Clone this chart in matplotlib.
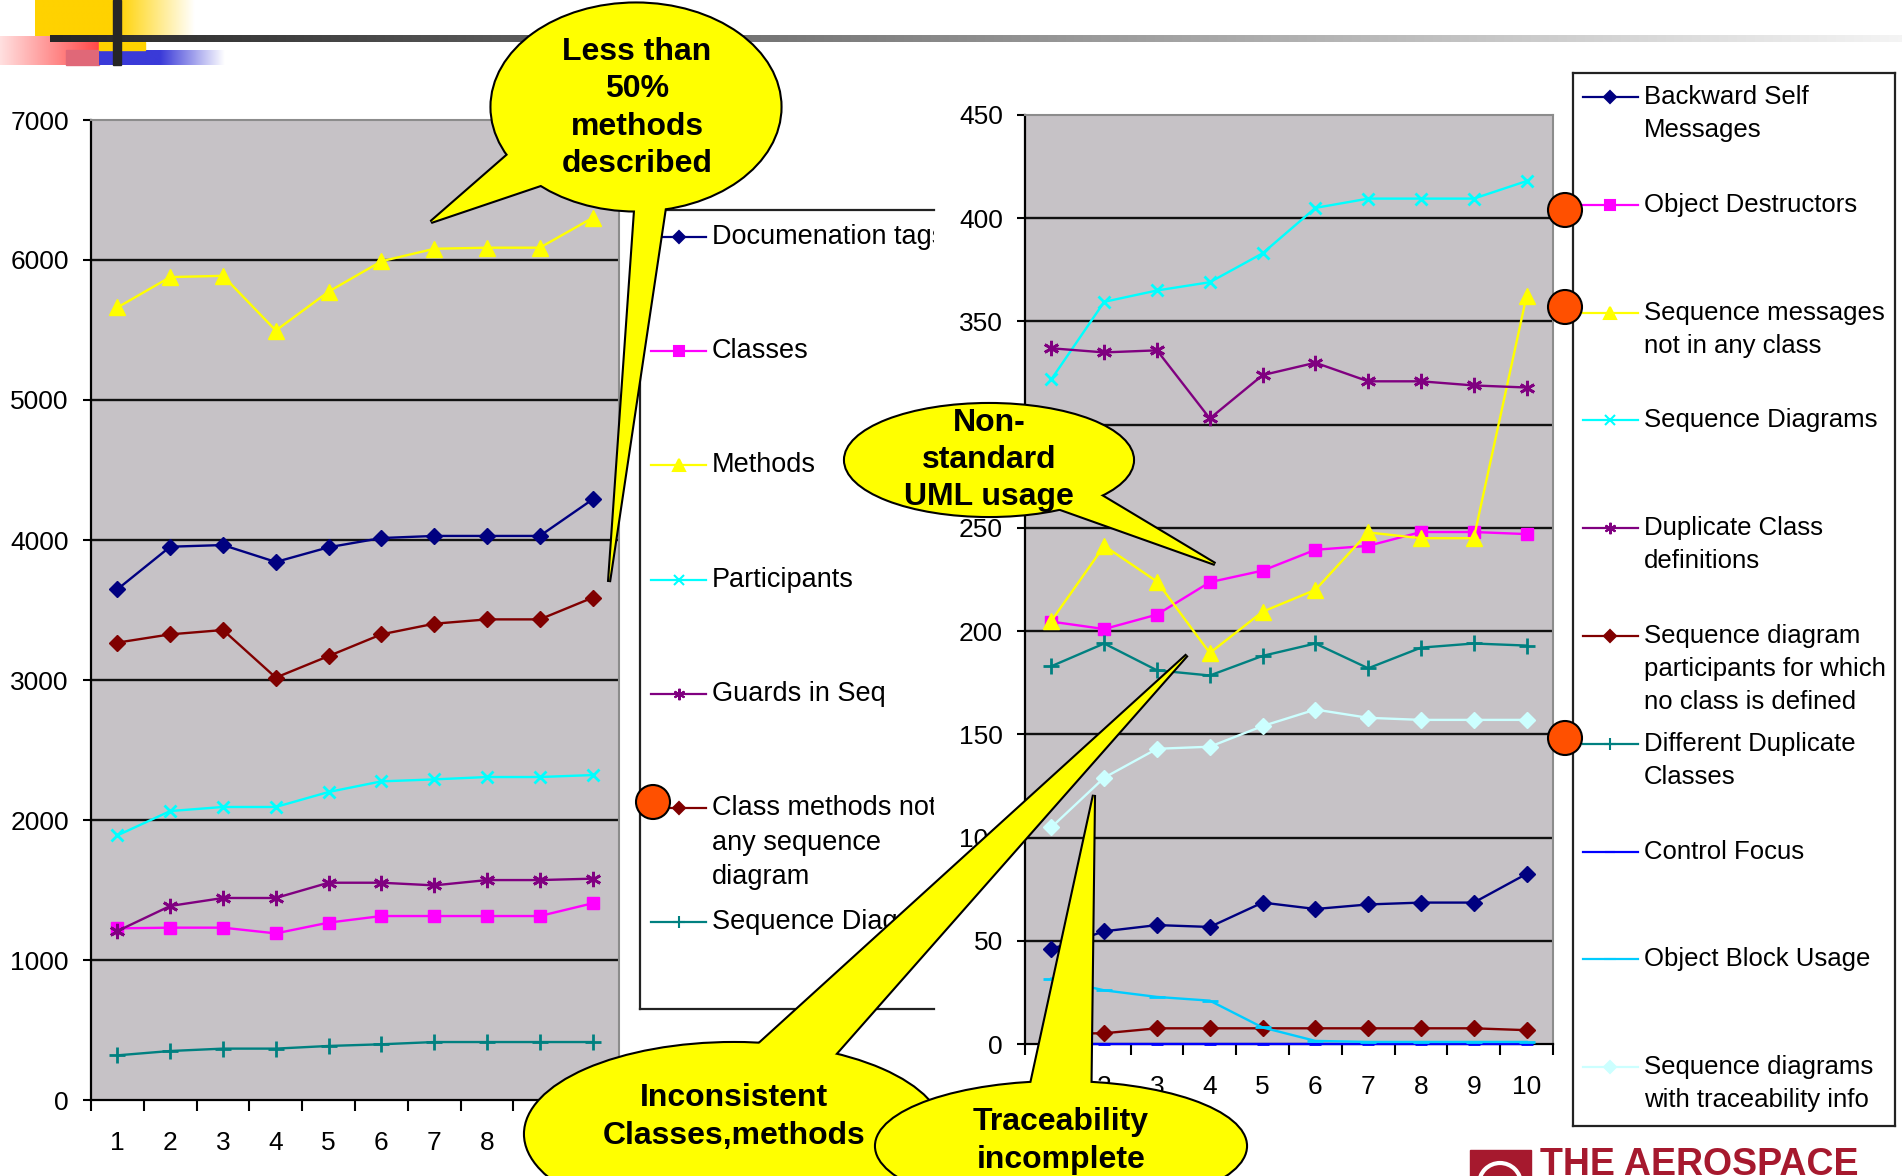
import matplotlib.pyplot as plt
import numpy as np
from matplotlib.colors import to_rgb
from matplotlib.patches import Circle, Ellipse, Polygon, Rectangle

plt.switch_backend("agg")
plt.rcParams["font.family"] = ["Liberation Sans", "DejaVu Sans"]

W, H = 1902, 1176

# --- data -------------------------------------------------------------
runs = [1, 2, 3, 4, 5, 6, 7, 8, 9, 10]

left_yticks = [0, 1000, 2000, 3000, 4000, 5000, 6000, 7000]
right_yticks = [0, 50, 100, 150, 200, 250, 300, 350, 400, 450]

# left chart
doc_tags = [3648, 3952, 3964, 3843, 3948, 4014, 4029, 4029, 4029, 4290]
classes = [1226, 1231, 1231, 1190, 1267, 1314, 1314, 1314, 1314, 1405]
methods = [5661, 5878, 5887, 5496, 5774, 5991, 6080, 6088, 6088, 6301]
participants = [1890, 2064, 2093, 2093, 2200, 2276, 2290, 2307, 2307, 2321]
guards_in_seq = [1207, 1386, 1443, 1443, 1552, 1552, 1533, 1571, 1571, 1581]
methods_not_in_seq = [3267, 3326, 3357, 3017, 3171, 3326, 3402, 3433, 3433, 3588]
seq_diagrams_left = [319, 350, 367, 367, 386, 398, 414, 414, 414, 414]

left_labels = [
    "Documenation tags", "Classes", "Methods", "Participants",
    "Guards in Seq", "Class methods not in\nany sequence\ndiagram",
    "Sequence Diagrams",
]
left_series = [doc_tags, classes, methods, participants, guards_in_seq,
               methods_not_in_seq, seq_diagrams_left]

# right chart
backward_self = [46, 54.6, 57.6, 56.7, 68.5, 65.4, 67.6, 68.5, 68.5, 82.4]
obj_destructors = [204.6, 201, 208, 223.7, 229.3, 239.4, 241.3, 248, 248, 247]
seq_msgs_no_class = [205, 241.3, 224, 189.4, 209.4, 220, 247.8, 245, 245, 362.4]
seq_diagrams = [322, 359.5, 365, 369, 383, 405, 409.5, 409.5, 409.5, 418]
dup_class_defs = [337, 335, 336, 303, 324, 330, 321, 321, 319, 318]
participants_no_class = [5, 5.2, 7.6, 7.6, 7.6, 7.6, 7.6, 7.6, 7.6, 6.7]
diff_dup_classes = [183, 194, 181, 178.5, 188, 194, 182, 192, 194, 193]
control_focus = [0, 0, 0, 0, 0, 0, 0, 0, 0, 0]
obj_block_usage = [31.7, 26, 22.8, 21, 8, 1.5, 1, 1, 1, 1]
seq_traceability = [105, 129, 143, 144, 154, 162, 158, 157, 157, 157]

right_labels = [
    "Backward Self\nMessages", "Object Destructors",
    "Sequence messages\nnot in any class", "Sequence Diagrams",
    "Duplicate Class\ndefinitions",
    "Sequence diagram\nparticipants for which\nno class is defined",
    "Different Duplicate\nClasses", "Control Focus", "Object Block Usage",
    "Sequence diagrams\nwith traceability info",
]
right_series = [backward_self, obj_destructors, seq_msgs_no_class,
                seq_diagrams, dup_class_defs, participants_no_class,
                diff_dup_classes, control_focus, obj_block_usage,
                seq_traceability]

# --- styles -----------------------------------------------------------
STAR = (6, 2, 0)
left_styles = [
    ("#000080", "D", 8), ("#FF00FF", "s", 9), ("#FFFF00", "^", 11),
    ("#00FFFF", "x", 9), ("#800080", STAR, 11), ("#800000", "D", 8),
    ("#008080", "+", 12),
]
right_styles = [
    ("#000080", "D", 8), ("#FF00FF", "s", 9), ("#FFFF00", "^", 11),
    ("#00FFFF", "x", 9), ("#800080", STAR, 11), ("#800000", "D", 8),
    ("#008080", "+", 12), ("#0000FF", "_", 9), ("#00CCFF", "_", 11),
    ("#CCFFFF", "D", 8),
]

PLOT_BG = "#C6C2C6"
YELLOW = "#FFFF00"
ORANGE = "#FF5000"
CRIMSON = "#A6192E"

fig = plt.figure(figsize=(W / 100, H / 100), dpi=100, facecolor="white")


def px_axes(x0, y0, x1, y1, **kw):
    return fig.add_axes([x0 / W, 1 - y1 / H, (x1 - x0) / W, (y1 - y0) / H], **kw)


def setup_chart(ax, yticks):
    ax.set_facecolor(PLOT_BG)
    ax.set_xlim(0.5, 10.5)
    ax.set_ylim(yticks[0], yticks[-1])
    ax.set_yticks(yticks)
    ax.set_xticks(runs)
    ax.set_xticks(np.arange(0.5, 11, 1), minor=True)
    ax.tick_params(axis="x", which="major", length=0, pad=22, labelsize=19)
    ax.tick_params(axis="x", which="minor", length=8, width=1.5)
    ax.tick_params(axis="y", length=6, width=1.5, pad=10, labelsize=19)
    for v in yticks[1:-1]:
        ax.axhline(v, color="#111111", lw=1.7, zorder=0.8)
    for s in ["top", "right"]:
        ax.spines[s].set_color("#8c8c8c")
        ax.spines[s].set_linewidth(1.5)
    for s in ["left", "bottom"]:
        ax.spines[s].set_color("black")
        ax.spines[s].set_linewidth(1.6)


def draw_series(ax, series, styles):
    for vals, (c, m, ms) in zip(series, styles):
        thin = m in ("x", "+", "_", STAR)
        ax.plot(runs, vals, color=c, lw=1.7, marker=m, ms=ms,
                mew=2 if thin else 1, mec=c, mfc=c, clip_on=False, zorder=3)


# --- charts -------------------------------------------------------------
ax_l = px_axes(91, 120, 619, 1100)
setup_chart(ax_l, left_yticks)
draw_series(ax_l, left_series, left_styles)

ax_r = px_axes(1025, 115, 1553, 1044)
setup_chart(ax_r, right_yticks)
draw_series(ax_r, right_series, right_styles)


# --- legends ------------------------------------------------------------
def draw_legend(x0, y0, x1, y1, labels, styles, first_y, step, gap, fs,
                hx, tx, right_spine=True):
    lg = px_axes(x0, y0, x1, y1)
    lg.set_xlim(x0, x1)
    lg.set_ylim(y1, y0)
    lg.set_xticks([])
    lg.set_yticks([])
    lg.set_facecolor("white")
    for s in lg.spines.values():
        s.set_color("#222222")
        s.set_linewidth(1.6)
    lg.spines["right"].set_visible(right_spine)
    for i, (lab, (c, m, ms)) in enumerate(zip(labels, styles)):
        y = first_y + i * step
        lg.plot([hx[0], hx[1]], [y, y], color=c, lw=1.6)
        lg.plot([(hx[0] + hx[1]) / 2], [y], color=c, marker=m, ms=ms * 0.75,
                mew=1.5, mec=c, mfc=c)
        for j, line in enumerate(lab.split("\n")):
            lg.text(tx, y + j * gap, line, va="center", ha="left",
                    fontsize=fs, color="black", clip_on=True)
    return lg


draw_legend(640, 210, 934, 1009, left_labels, left_styles, 237, 114.2,
            34.6, 19.5, (651, 706), 712, right_spine=False)
draw_legend(1573, 73, 1895, 1126, right_labels, right_styles, 97, 107.8,
            33, 18.5, (1583, 1638), 1644)

# --- overlay: header, callouts, markers, logo --------------------------
ov = fig.add_axes([0, 0, 1, 1], zorder=10)
ov.axis("off")


def hgrad(x0, x1, y0, y1, c0, c1, solid_to=None, z=1):
    n = 256
    a = np.array(to_rgb(c0))
    b = np.array(to_rgb(c1))
    start = solid_to if solid_to else x0
    xs = np.linspace(x0, x1, n)
    t = np.clip((xs - start) / (x1 - start), 0, 1)
    img = (a[None, :] * (1 - t[:, None]) + b[None, :] * t[:, None])[None, :, :]
    ov.imshow(img, extent=(x0, x1, y1, y0), origin="upper", aspect="auto",
              interpolation="bilinear", zorder=z)


hgrad(35, 195, 0, 36, "#FFD200", "#FFFFFF", solid_to=117)
hgrad(0, 99, 36, 65, "#FFE0E0", "#FF4848")
ov.add_patch(Rectangle((66, 50), 33, 15, color="#E06878", zorder=2))
hgrad(99, 225, 50, 65, "#3A3AD8", "#FFFFFF", solid_to=160, z=2)
ov.add_patch(Rectangle((99, 42), 46, 8, color="#FFD200", zorder=2))
hgrad(50, 1902, 35, 42, "#262626", "#F4F4F4", z=3)
ov.add_patch(Rectangle((113, 0), 8, 65, color="#262626", zorder=4))

LS = 1.32


def callout(center, w, h, tails, text, tpos, z):
    for tail in tails:
        ov.add_patch(Polygon(tail, closed=True, fc=YELLOW, ec="black", lw=3, zorder=z))
    ov.add_patch(Ellipse(center, w, h, fc=YELLOW, ec="black", lw=3, zorder=z))
    for tail in tails:
        ov.add_patch(Polygon(tail, closed=True, fc=YELLOW, ec="none", zorder=z + 0.1))
    ov.add_patch(Ellipse(center, w, h, fc=YELLOW, ec="none", zorder=z + 0.1))
    ov.text(tpos[0], tpos[1], text, ha="center", va="center", fontsize=23,
            fontweight="bold", color="black", linespacing=LS, zorder=z + 0.2)


callout((636, 107), 289, 207,
        [[(525, 140), (431, 222), (585, 170)], [(639, 154), (609, 582), (673, 154)]],
        "Less than\n50%\nmethods\ndescribed", (637, 108), 20)
callout((989, 460), 288, 112, [[(1065, 474), (1215, 564), (1007, 490)]],
        "Non-\nstandard\nUML usage", (989, 460), 22)
callout((734, 1134), 418, 182, [[(726, 1074), (1187, 655), (808, 1085)]],
        "Inconsistent\nClasses,methods", (734, 1117), 24)
callout((1061, 1146), 370, 128, [[(1023, 1121), (1094, 795), (1090, 1123)]],
        "Traceability\nincomplete", (1061, 1141), 26)

for cx, cy in [(1565, 210), (1565, 307), (1565, 738), (653, 802)]:
    ov.add_patch(Circle((cx, cy), 17, fc=ORANGE, ec="black", lw=1.5, zorder=30))

# logo, cut by the bottom edge
ov.add_patch(Rectangle((1470, 1150), 61, 30, color=CRIMSON, zorder=30))
ov.add_patch(Circle((1500, 1184), 21, fc="none", ec="white", lw=3, zorder=31))
ov.text(1540, 1147, "THE AEROSPACE", ha="left", va="top", fontsize=27,
        fontweight="bold", color=CRIMSON, zorder=31)

ov.set_xlim(0, W)
ov.set_ylim(H, 0)

fig.savefig("out.png", dpi=100, facecolor="white")
plt.close(fig)
